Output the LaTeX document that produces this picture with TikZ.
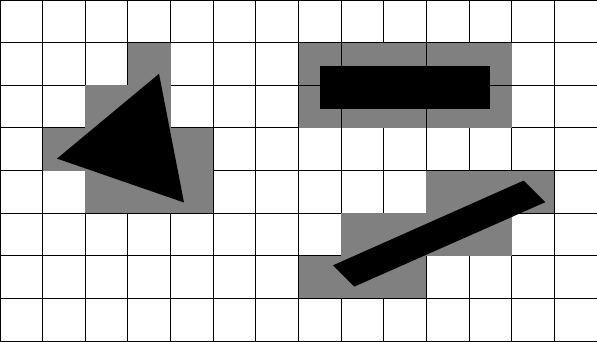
\documentclass[tikz,border=0pt]{standalone}
\begin{document}
\begin{tikzpicture}[x=1cm,y=1cm,
  gridline/.style={line width=0.6pt,black},
  cover/.style={fill={rgb,255:red,128;green,128;blue,128}},
  solid shape/.style={fill=black}]
\useasboundingbox (0,0) rectangle (14,8);
\fill[white] (0,0) rectangle (14,8);
% grid
\draw[gridline] (0,0) grid (14,8);
% gray cells around the triangle
\fill[cover] (3,6) rectangle (4,7);
\fill[cover] (2,5) rectangle (4,6);
\fill[cover] (1,4) rectangle (5,5);
\fill[cover] (2,3) rectangle (5,4);
% gray cells around the rectangle
\fill[cover] (7,5) rectangle (12,7);
\draw[gridline] (8,5) -- (8,7);
\draw[gridline] (10,5) -- (10,7);
\draw[gridline] (7,6) -- (12,6);
% gray cells around the bar
\fill[cover] (10,3) rectangle (13,4);
\fill[cover] (8,2) rectangle (12,3);
\fill[cover] (7,1) rectangle (10,2);
% black shapes
\fill[solid shape] (3.729,6.269) -- (1.337,4.281) -- (4.315,3.251) -- cycle;
\fill[solid shape] (7.505,5.45) rectangle (11.49,6.456);
\fill[solid shape] (7.810,1.778) -- (8.309,1.279) -- (12.788,3.259) -- (12.282,3.766) -- cycle;
\end{tikzpicture}
\end{document}
